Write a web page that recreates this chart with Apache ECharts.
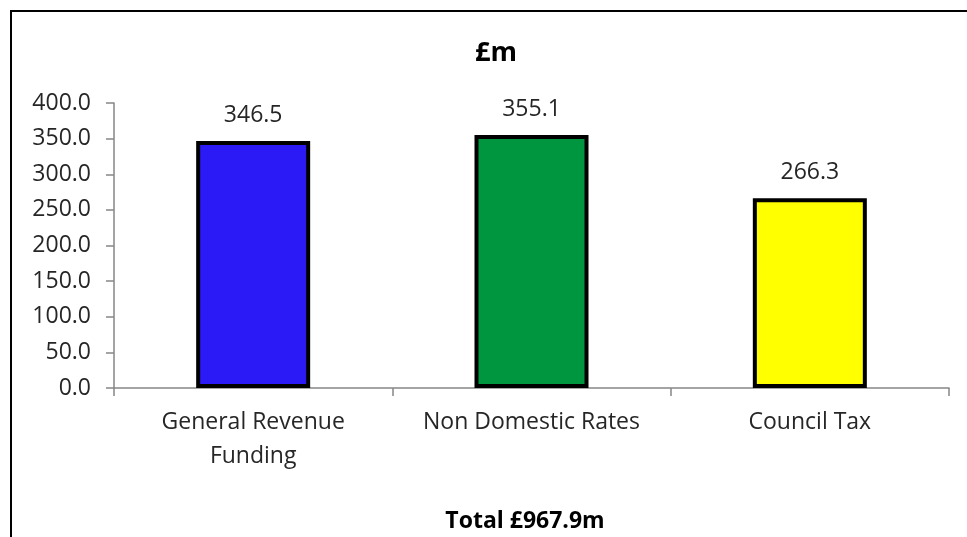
<!DOCTYPE html>
<html><head><meta charset="utf-8">
<script src="https://cdn.jsdelivr.net/npm/echarts@6/dist/echarts.min.js"></script>
<style>html,body{margin:0;padding:0;background:#fff}#c{width:967px;height:537px}</style>
</head><body><div id="c"></div>
<script>
const categories = ['General Revenue\nFunding', 'Non Domestic Rates', 'Council Tax'];
const values = [346.5, 355.1, 266.3];
const barColors = ['#2B1AF5', '#00963F', '#FFFF00'];
const yTicks = { min: 0, max: 400, interval: 50 };
const titleText = '£m';
const totalText = 'Total £967.9m';

const font = '"Open Sans", sans-serif';
const chart = echarts.init(document.getElementById('c'), null, { renderer: 'canvas' });
chart.setOption({
  animation: false,
  backgroundColor: '#fff',
  title: [
    { text: titleText, left: 491, top: 35, textAlign: 'center',
      textStyle: { fontFamily: font, fontWeight: 'bold', fontSize: 27, color: '#000' } },
    { text: totalText, left: 520, top: 505, textAlign: 'center',
      textStyle: { fontFamily: font, fontWeight: 'bold', fontSize: 23, color: '#000' } }
  ],
  graphic: [{
    type: 'rect', shape: { x: 11, y: 11, width: 1000, height: 600 },
    style: { fill: 'none', stroke: '#000', lineWidth: 2 }, silent: true, z: 100
  }],
  grid: { left: 114, right: 18, top: 103, bottom: 149 },
  xAxis: {
    type: 'category', data: categories,
    axisLine: { lineStyle: { color: '#868686', width: 1.5 } },
    axisTick: { show: true, length: 8, alignWithLabel: false, lineStyle: { color: '#868686', width: 1.5 } },
    axisLabel: { fontFamily: font, fontSize: 23, color: '#262626', margin: 17, lineHeight: 34, interval: 0 }
  },
  yAxis: {
    type: 'value', min: yTicks.min, max: yTicks.max, interval: yTicks.interval,
    splitLine: { show: false },
    axisLine: { show: true, lineStyle: { color: '#868686', width: 1.5 } },
    axisTick: { show: true, length: 8, lineStyle: { color: '#868686', width: 1.5 } },
    axisLabel: { fontFamily: font, fontSize: 23, color: '#262626', margin: 23,
      formatter: v => v.toFixed(1) }
  },
  series: [{
    type: 'bar', barWidth: 114,
    data: values.map((v, i) => ({ value: v, itemStyle: { color: barColors[i] } })),
    itemStyle: { borderColor: '#000', borderWidth: 4 },
    label: { show: true, position: 'top', distance: 14, fontFamily: font, fontSize: 23, color: '#262626',
      formatter: p => p.value.toFixed(1) }
  }]
});
</script></body></html>
